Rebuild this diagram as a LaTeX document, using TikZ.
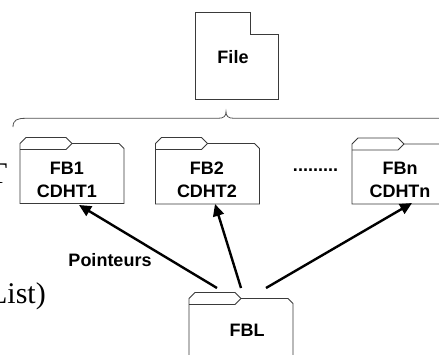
\documentclass[tikz,border=0pt]{standalone}
\usepackage{fontspec}
\setmainfont{Liberation Serif}
\setsansfont{Liberation Sans}
\usetikzlibrary{arrows.meta}
\definecolor{outl}{HTML}{3A3A3A}
\definecolor{bracec}{HTML}{505050}
\tikzset{
  folderline/.style={draw=outl,line width=0.9pt,line join=miter},
  lbl/.style={font=\sffamily\bfseries\fontsize{18}{23}\selectfont,align=center,inner sep=0pt},
  serifbig/.style={font=\rmfamily\fontsize{30}{34}\selectfont,inner sep=0pt},
  ptr/.style={line width=2.4pt,-{Triangle[length=12pt,width=11pt]},black}
}
\newcommand\folderat[3]{%
  \draw[folderline,fill=white] (#1,#2) ++(0,6) -- ++(6,-6) -- ++(40,0) -- ++(6,6) -- ++(47,0) -- ++(5,5) -- ++(0,{#3-11}) -- ++(-104,0) -- cycle;
  \draw[folderline] (#1,#2) ++(0,12) -- ++(46,0) -- ++(6,-6);
}
\begin{document}
\begin{tikzpicture}[x=1pt,y=-1pt]
\useasboundingbox (0,0) rectangle (439,354);
\begin{scope}
\clip (0,0) rectangle (439,354);
% file page
\draw[folderline] (195,12.5) -- (250.7,12.5) -- (250.7,34) -- (278,34) -- (278,99) -- (195,99) -- cycle;
\node[lbl] (file) at (233,57.5) {File};
% brace
\draw[bracec,line width=0.8pt] (13,127) .. controls (13,120) and (17,118.3) .. (26,118.3) -- (218,118.3) .. controls (224,118.3) and (226,116) .. (226,111.7) .. controls (226,116) and (228,118.3) .. (234,118.3) -- (445,118.3);
% folders
\folderat{20}{137.5}{66}
\folderat{155.5}{137.5}{66.5}
\folderat{352}{138}{66}
\folderat{189}{292.5}{80}
\node[lbl] (fb1) at (67,179.5) {FB1\\CDHT1};
\node[lbl] (fb2) at (207,180) {FB2\\CDHT2};
\node[lbl] (fbn) at (400,179.5) {FBn\\CDHTn};
\node[lbl] (fbl) at (247,330) {FBL};
\node[lbl] (dots) at (315.5,170) {.........};
\node[lbl] (ptrlbl) at (110,260) {Pointeurs};
% serif fragments
\node[serifbig,anchor=base east] (tfrag) at (7.5,183) {T};
\node[serifbig,anchor=base east] (listfrag) at (46,303) {List)};
% arrow end points
\coordinate (s1) at (217,288);
\coordinate (s2) at (241,288);
\coordinate (s3) at (266,288);
\coordinate (e1) at (79,205);
\coordinate (e2) at (215,204);
\coordinate (e3) at (412,203);
\draw[ptr] (s1) -- (e1);
\draw[ptr] (s2) -- (e2);
\draw[ptr] (s3) -- (e3);
\end{scope}
\end{tikzpicture}
\end{document}
